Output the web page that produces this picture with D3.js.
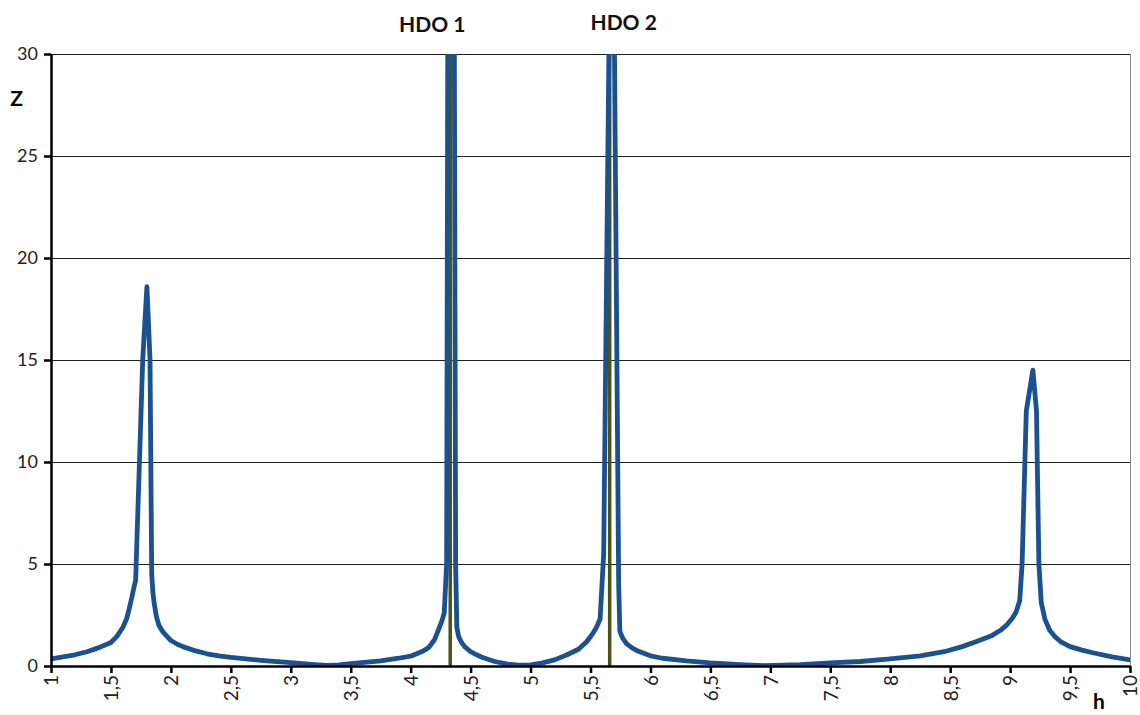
<!DOCTYPE html>
<html>
<head>
<meta charset="utf-8">
<script src="https://cdn.jsdelivr.net/npm/d3@7"></script>
<style>
  body { margin: 0; background: #fff; overflow: hidden; }
  svg { display: block; }
  text { font-family: Lato, "Open Sans", sans-serif; }
</style>
</head>
<body>
<section></section>
<script>
"use strict";

// chart data
const hValues = [
  1.0, 1.1, 1.2, 1.3, 1.4, 1.5, 1.55, 1.6, 1.63, 1.65, 1.67, 1.69, 1.706, 1.765, 1.8, 1.826, 1.84,
  1.85, 1.86, 1.88, 1.9, 1.93, 1.96, 2.0, 2.05, 2.1, 2.2, 2.3, 2.4, 2.5, 2.75, 3.0, 3.2, 3.3, 3.4,
  3.5, 3.75, 3.9, 4.0, 4.1, 4.15, 4.2, 4.23, 4.26, 4.28, 4.3, 4.335, 4.375, 4.385, 4.4, 4.42, 4.45,
  4.5, 4.55, 4.6, 4.7, 4.8, 4.9, 5.0, 5.1, 5.2, 5.3, 5.4, 5.47, 5.52, 5.55, 5.58, 5.61, 5.68, 5.735,
  5.745, 5.77, 5.8, 5.85, 5.9, 6.0, 6.1, 6.3, 6.5, 6.75, 6.95, 7.25, 7.5, 7.75, 8.0, 8.25, 8.45,
  8.6, 8.72, 8.85, 8.92, 8.97, 9.02, 9.05, 9.08, 9.1, 9.135, 9.19, 9.22, 9.24, 9.26, 9.29, 9.33,
  9.38, 9.42, 9.5, 9.6, 9.69, 9.85, 10.0
];
const zValues = [
  0.35, 0.45, 0.55, 0.7, 0.9, 1.15, 1.45, 1.9, 2.3, 2.75, 3.25, 3.8, 4.2, 15.0, 18.6, 15.0, 4.5,
  3.6, 3.1, 2.4, 2.0, 1.7, 1.5, 1.25, 1.08, 0.95, 0.75, 0.6, 0.5, 0.42, 0.28, 0.17, 0.07, 0.03, 0.06,
  0.12, 0.25, 0.38, 0.48, 0.72, 0.9, 1.3, 1.75, 2.2, 2.6, 5.0, 100, 5.0, 1.9, 1.45, 1.2, 0.95,
  0.7, 0.55, 0.42, 0.22, 0.1, 0.04, 0.05, 0.15, 0.3, 0.54, 0.82, 1.2, 1.6, 1.9, 2.3, 5.5, 45, 4.0,
  1.7, 1.35, 1.1, 0.88, 0.72, 0.5, 0.38, 0.25, 0.15, 0.07, 0.02, 0.07, 0.15, 0.22, 0.35, 0.5, 0.7,
  0.95, 1.2, 1.5, 1.75, 2.0, 2.35, 2.65, 3.2, 5.0, 12.5, 14.5, 12.5, 5.0, 3.1, 2.3, 1.75,
  1.4, 1.2, 0.95, 0.78, 0.65, 0.45, 0.3
];
const hdoPositions = [4.33, 5.66];
const hdoLabels = ["HDO 1", "HDO 2"];
const xTicks = [1, 1.5, 2, 2.5, 3, 3.5, 4, 4.5, 5, 5.5, 6, 6.5, 7, 7.5, 8, 8.5, 9, 9.5, 10];
const yTicks = [0, 5, 10, 15, 20, 25, 30];

const w = 1140;
const h = 715;
const margin = { top: 54, right: 10, bottom: 49, left: 51 };
const innerWidth = w - margin.left - margin.right;
const innerHeight = h - margin.top - margin.bottom;

const svg = d3.select("section").append("svg").attr("width", w).attr("height", h);
const container = svg.append("g").attr("transform", `translate(${margin.left}, ${margin.top})`);

const xScale = d3.scaleLinear().domain([1, 10]).range([0, innerWidth]);
const yScale = d3.scaleLinear().domain([0, 30]).range([innerHeight, 0]);

//gridlines
container
  .append("g")
  .selectAll("line")
  .data(yTicks.filter((d) => d > 0))
  .enter()
  .append("line")
  .attr("x1", 0)
  .attr("x2", innerWidth)
  .attr("y1", (d) => yScale(d) + 0.5)
  .attr("y2", (d) => yScale(d) + 0.5)
  .attr("stroke", "#1e1e1e")
  .attr("stroke-width", 1)
  .attr("shape-rendering", "crispEdges");

//right border of the plot area
container
  .append("line")
  .attr("x1", innerWidth + 0.5)
  .attr("x2", innerWidth + 0.5)
  .attr("y1", 0)
  .attr("y2", innerHeight)
  .attr("stroke", "#8a8a8a")
  .attr("stroke-width", 1)
  .attr("shape-rendering", "crispEdges");

//clip the curve to the plot area
svg
  .append("defs")
  .append("clipPath")
  .attr("id", "plot-clip")
  .append("rect")
  .attr("x", 0)
  .attr("y", 0)
  .attr("width", innerWidth)
  .attr("height", innerHeight);

//HDO markers
container
  .append("g")
  .selectAll("line")
  .data(hdoPositions)
  .enter()
  .append("line")
  .attr("x1", (d) => xScale(d))
  .attr("x2", (d) => xScale(d))
  .attr("y1", yScale(0))
  .attr("y2", yScale(30))
  .attr("stroke", "#4b5416")
  .attr("stroke-width", 3.5);

const points = hValues.map((d, i) => [d, zValues[i]]);
const line = d3
  .line()
  .x((d) => xScale(d[0]))
  .y((d) => yScale(d[1]));

container
  .append("path")
  .datum(points)
  .attr("clip-path", "url(#plot-clip)")
  .attr("fill", "none")
  .attr("stroke", "#1b5190")
  .attr("stroke-width", 4.8)
  .attr("stroke-linejoin", "round")
  .attr("stroke-linecap", "round")
  .attr("d", line);

//y Axis
const yAxisG = container
  .append("g")
  .call(d3.axisLeft(yScale).tickValues(yTicks).tickSize(7).tickSizeOuter(0).tickPadding(6));
yAxisG.select(".domain").attr("stroke", "#000").attr("stroke-width", 2.5);
yAxisG.selectAll(".tick line").attr("stroke", "#000").attr("stroke-width", 2.5);
yAxisG.selectAll("text").attr("font-size", 18).attr("fill", "#222").style("font-family", "Lato");

//x Axis
const xAxisG = container
  .append("g")
  .attr("transform", `translate(0, ${innerHeight})`)
  .call(
    d3
      .axisBottom(xScale)
      .tickValues(xTicks)
      .tickFormat((d) => String(d).replace(".", ","))
      .tickSize(7)
      .tickSizeOuter(0)
  );
xAxisG.select(".domain").attr("stroke", "#000").attr("stroke-width", 2.5);
xAxisG.selectAll(".tick line").attr("stroke", "#000").attr("stroke-width", 2.5);
xAxisG
  .selectAll("text")
  .attr("font-size", 19)
  .attr("fill", "#222")
  .style("font-family", "Lato")
  .attr("transform", "rotate(-90)")
  .attr("text-anchor", "end")
  .attr("x", -9)
  .attr("y", 0)
  .attr("dy", "0.36em");

//axis titles
svg
  .append("text")
  .attr("x", 16.5)
  .attr("y", 106)
  .attr("text-anchor", "middle")
  .attr("font-size", 21)
  .attr("font-weight", "bold")
  .text("Z");

svg
  .append("text")
  .attr("x", 1099)
  .attr("y", 709)
  .attr("text-anchor", "middle")
  .attr("font-size", 21)
  .attr("font-weight", "bold")
  .text("h");

//HDO labels
const labelShift = [-18, 14];
const labelBase = [31.5, 29.5];
svg
  .append("g")
  .selectAll("text")
  .data(hdoPositions)
  .enter()
  .append("text")
  .attr("x", (d, i) => margin.left + xScale(d) + labelShift[i])
  .attr("y", (d, i) => labelBase[i])
  .attr("text-anchor", "middle")
  .attr("font-size", 21)
  .attr("font-weight", "bold")
  .attr("fill", "#111")
  .text((d, i) => hdoLabels[i]);
</script>
</body>
</html>
